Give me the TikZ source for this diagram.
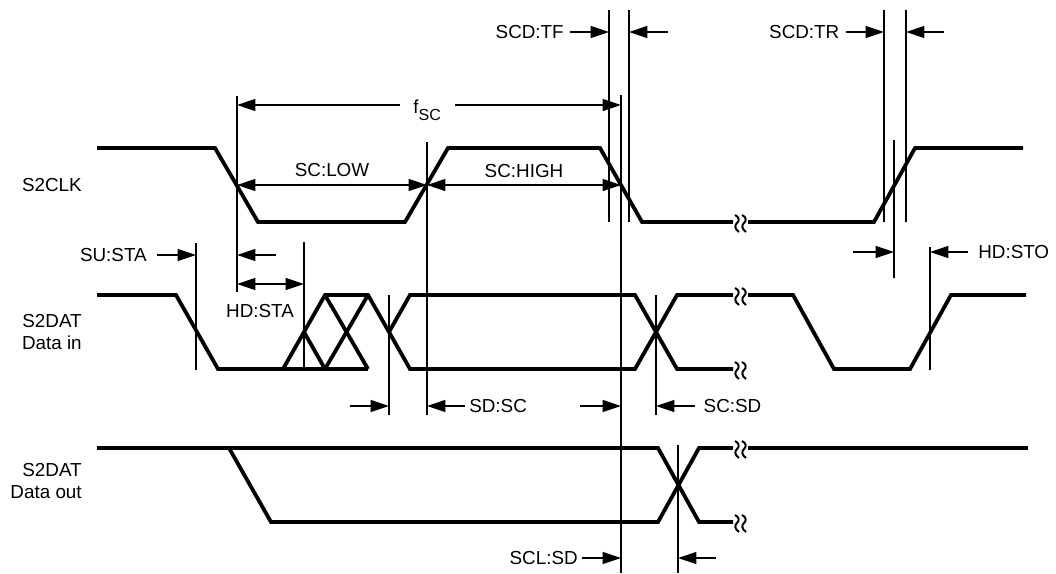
\documentclass[tikz,border=0pt]{standalone}
\usepackage{fontspec}
\setmainfont{Liberation Sans}
\usetikzlibrary{positioning,arrows.meta}
\tikzset{
  wave/.style={
    line width=2.7pt
  },
  guide/.style={
    line width=0.85pt
  },
  dim/.style={
    line width=0.85pt,
    -{Triangle[length=0.46cm,width=0.3cm]}
  },
  twodim/.style={
    line width=0.85pt,
    {Triangle[length=0.46cm,width=0.3cm]}-{Triangle[length=0.46cm,width=0.3cm]}
  },
  lbl/.style={
    inner sep=0pt,
    font=\fontsize{13.4}{16.1}\selectfont
  },
  signame/.style={
    lbl,
    anchor=east,
    align=right
  },
  squiggle/.style={
    line width=1.4pt
  }
}
% two wavy marks where a line is cut
\newcommand{\wavebreak}[2]{%
  \begin{scope}[shift={(#1,#2)}]
    \draw[squiggle] (-5.5,-8) .. controls (-1,-6) and (-1,-2) .. (-3.5,0) .. controls (-6,2) and (-6,6) .. (-1.5,9);
    \draw[squiggle] (1.5,-8) .. controls (6,-6) and (6,-2) .. (3.5,0) .. controls (1,2) and (1,6) .. (5.5,9);
  \end{scope}
}
\begin{document}
\begin{tikzpicture}[x=0.025cm,y=-0.025cm]

					\useasboundingbox (0,0) rectangle (1056,573);

					% signal names
					\node[signame] (clk_lbl) at (82,185) {S2CLK};
					\node[signame] (din_lbl) at (82,332) {S2DAT\\Data in};
					\node[signame] (dout_lbl) at (82,481) {S2DAT\\Data out};

					% S2CLK
					\draw[wave] (97,148) -- (215,148) -- (258,222) -- (405,222) -- (448,148) -- (600,148) -- (642,222) -- (733,222);
					\draw[wave] (748,222) -- (874,222) -- (915,148) -- (1023,148);
					\wavebreak{740.5}{223}

					% S2DAT data in
					\draw[wave] (97,295) -- (176,295) -- (218,369) -- (368,369);
					\draw[wave] (283,369) -- (325,295) -- (368,295) -- (410,369) -- (635,369) -- (677,295) -- (733,295);
					\draw[wave] (325,295) -- (368,369);
					\draw[wave] (304,332) -- (325,369);
					\draw[wave] (325,369) -- (368,295);
					\draw[wave] (389,332) -- (410,295) -- (635,295) -- (677,369) -- (733,369);
					\draw[wave] (748,295) -- (793,295) -- (834,369) -- (910,369) -- (951,295) -- (1026,295);
					\wavebreak{740.5}{296}
					\wavebreak{740.5}{370}

					% S2DAT data out
					\draw[wave] (97,448) -- (658,448) -- (699,522) -- (733,522);
					\draw[wave] (229,448) -- (271,522) -- (658,522) -- (699,448) -- (733,448);
					\draw[wave] (748,448) -- (1028,448);
					\wavebreak{740.5}{449}
					\wavebreak{740.5}{523}

					% guide lines
					\coordinate (su) at (196,243);   \coordinate (su_end) at (196,370);
					\coordinate (ckf) at (237,96);   \coordinate (ckf_end) at (237,292);
					\coordinate (hd) at (304,242);   \coordinate (hd_end) at (304,369);
					\coordinate (dx) at (389,295);   \coordinate (dx_end) at (389,415);
					\coordinate (ckr) at (427,142);  \coordinate (ckr_end) at (427,415);
					\coordinate (tf_a) at (609,10);  \coordinate (tf_a_end) at (609,222);
					\coordinate (ckf2) at (621,95);  \coordinate (ckf2_end) at (621,573);
					\coordinate (tf_b) at (629,10);  \coordinate (tf_b_end) at (629,222);
					\coordinate (sd) at (656,295);   \coordinate (sd_end) at (656,415);
					\coordinate (dout) at (678,445); \coordinate (dout_end) at (678,573);
					\coordinate (tr_a) at (884,10);  \coordinate (tr_a_end) at (884,222);
					\coordinate (ckr2) at (894,140); \coordinate (ckr2_end) at (894,278);
					\coordinate (tr_b) at (906,10);  \coordinate (tr_b_end) at (906,222);
					\coordinate (sto) at (930,247);  \coordinate (sto_end) at (930,370);

					\draw[guide] (su) -- (su_end);
					\draw[guide] (ckf) -- (ckf_end);
					\draw[guide] (hd) -- (hd_end);
					\draw[guide] (dx) -- (dx_end);
					\draw[guide] (ckr) -- (ckr_end);
					\draw[guide] (tf_a) -- (tf_a_end);
					\draw[guide] (ckf2) -- (ckf2_end);
					\draw[guide] (tf_b) -- (tf_b_end);
					\draw[guide] (sd) -- (sd_end);
					\draw[guide] (dout) -- (dout_end);
					\draw[guide] (tr_a) -- (tr_a_end);
					\draw[guide] (ckr2) -- (ckr2_end);
					\draw[guide] (tr_b) -- (tr_b_end);
					\draw[guide] (sto) -- (sto_end);

					% SCD:TF
					\coordinate (tf_tail) at (570,32);
					\draw[dim] (tf_tail) -- (tf_tail -| tf_a);
					\node[lbl, left = 0.15cm of tf_tail] (tf_lbl) {SCD:TF};
					\coordinate (tf_tail2) at (668,32);
					\draw[dim] (tf_tail2) -- (tf_tail2 -| tf_b);

					% SCD:TR
					\coordinate (tr_tail) at (846,32);
					\draw[dim] (tr_tail) -- (tr_tail -| tr_a);
					\node[lbl, left = 0.16cm of tr_tail] (tr_lbl) {SCD:TR};
					\coordinate (tr_tail2) at (944,32);
					\draw[dim] (tr_tail2) -- (tr_tail2 -| tr_b);

					% f_SC, SC:LOW, SC:HIGH
					\coordinate (fsc) at (237,105);
					\draw[twodim] (fsc) -- (fsc -| ckf2) node[lbl, pos=0.495, fill=white, inner xsep=0.345cm, yshift=-0.13cm] (fsc_lbl) {f\raisebox{-5.3pt}{\fontsize{11.4}{13}\selectfont SC}};
					\coordinate (lowh) at (237,185);
					\draw[twodim] (lowh) -- (lowh -| ckr) node[lbl, midway, above=0.19cm] (low_lbl) {SC:LOW};
					\draw[twodim] (lowh -| ckr) -- (lowh -| ckf2) node[lbl, midway, above=0.18cm] (high_lbl) {SC:HIGH};

					% SU:STA
					\coordinate (su_tail) at (157,255);
					\draw[dim] (su_tail) -- (su_tail -| su);
					\node[lbl, left = 0.25cm of su_tail] (su_lbl) {SU:STA};

					% HD:STA
					\coordinate (hd_tail) at (276,255);
					\draw[dim] (hd_tail) -- (hd_tail -| ckf);
					\coordinate (hdh) at (237,284);
					\draw[twodim] (hdh) -- (hdh -| hd);
					\node[lbl] (hd_lbl) at (260,311.5) {HD:STA};

					% SD:SC
					\coordinate (dx_tail) at (350,406);
					\draw[dim] (dx_tail) -- (dx_tail -| dx);
					\coordinate (sdsc_tail) at (465,406);
					\draw[dim] (sdsc_tail) -- (sdsc_tail -| ckr);
					\node[lbl, right = 0.1cm of sdsc_tail] (sdsc_lbl) {SD:SC};
					\coordinate (sdsc_tail2) at (580,406);
					\draw[dim] (sdsc_tail2) -- (sdsc_tail2 -| ckf2);

					% SC:SD
					\coordinate (scsd_tail) at (695,406);
					\draw[dim] (scsd_tail) -- (scsd_tail -| sd);
					\node[lbl, right = 0.21cm of scsd_tail] (scsd_lbl) {SC:SD};

					% HD:STO
					\coordinate (sto_tail) at (853,252);
					\draw[dim] (sto_tail) -- (sto_tail -| ckr2);
					\coordinate (sto_tail2) at (968,252);
					\draw[dim] (sto_tail2) -- (sto_tail2 -| sto);
					\node[lbl, right = 0.25cm of sto_tail2] (sto_lbl) {HD:STO};

					% SCL:SD
					\coordinate (scl_tail) at (582,558);
					\draw[dim] (scl_tail) -- (scl_tail -| ckf2);
					\node[lbl, left = 0.1cm of scl_tail] (scl_lbl) {SCL:SD};
					\coordinate (scl_tail2) at (716,558);
					\draw[dim] (scl_tail2) -- (scl_tail2 -| dout);

\end{tikzpicture}
\end{document}
